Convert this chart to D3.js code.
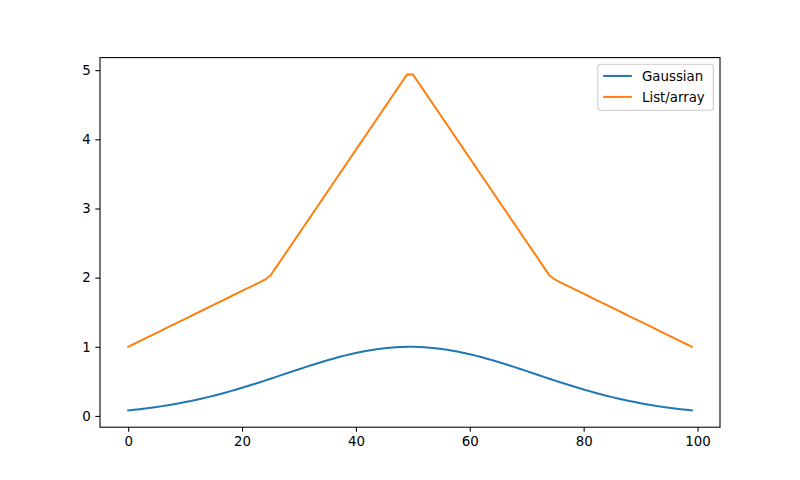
<!DOCTYPE html>
<html><head><meta charset="utf-8">
<script src="https://cdn.jsdelivr.net/npm/d3@7"></script>
<style>body{margin:0;background:#fff}svg{display:block;font-family:"DejaVu Sans",sans-serif}</style>
</head><body><svg id="c" width="800" height="480"></svg>
<script>
const seriesNames = ["Gaussian", "List/array"];
const gaussianValues = [0.080,0.088,0.097,0.107,0.118,0.129,0.142,0.155,0.169,0.184,0.200,0.216,0.234,0.253,0.272,0.292,0.314,0.336,0.359,0.382,0.407,0.432,0.458,0.484,0.511,0.538,0.565,0.593,0.620,0.648,0.675,0.702,0.729,0.755,0.780,0.805,0.828,0.851,0.872,0.892,0.911,0.928,0.944,0.957,0.969,0.979,0.987,0.994,0.998,1.000,
1.000,0.998,0.994,0.987,0.979,0.969,0.957,0.944,0.928,0.911,0.892,0.872,0.851,0.828,0.805,0.780,0.755,0.729,0.702,0.675,0.648,0.620,0.593,0.565,0.538,0.511,0.484,0.458,0.432,0.407,0.382,0.359,0.336,0.314,0.292,0.272,0.253,0.234,0.216,0.200,0.184,0.169,0.155,0.142,0.129,0.118,0.107,0.097,0.088,0.080];
const listValues = [1.000,1.040,1.081,1.121,1.162,1.202,1.242,1.283,1.323,1.364,1.404,1.444,1.485,1.525,1.566,1.606,1.646,1.687,1.727,1.768,1.808,1.848,1.889,1.929,1.970,
2.030,2.152,2.273,2.394,2.515,2.636,2.758,2.879,3.000,3.121,3.242,3.364,3.485,3.606,3.727,3.848,3.970,4.091,4.212,4.333,4.455,4.576,4.697,4.818,4.939,
4.939,4.818,4.697,4.576,4.455,4.333,4.212,4.091,3.970,3.848,3.727,3.606,3.485,3.364,3.242,3.121,3.000,2.879,2.758,2.636,2.515,2.394,2.273,2.152,2.030,
1.970,1.929,1.889,1.848,1.808,1.768,1.727,1.687,1.646,1.606,1.566,1.525,1.485,1.444,1.404,1.364,1.323,1.283,1.242,1.202,1.162,1.121,1.081,1.040,1.000];
const xTicks = [0, 20, 40, 60, 80, 100];
const yTicks = [0, 1, 2, 3, 4, 5];
const colors = ["#1f77b4", "#ff7f0e"];

const svg = d3.select("#c");
const L = 100, R = 720, T = 57.6, B = 427.2;
const series = [gaussianValues, listValues];
const n = listValues.length;
const xmin = 0, xmax = n - 1, xm = (xmax - xmin) * 0.05;
const allY = series.flat();
const ymin = d3.min(allY), ymax = d3.max(allY), ym = (ymax - ymin) * 0.05;
const x = d3.scaleLinear().domain([xmin - xm, xmax + xm]).range([L, R]);
const y = d3.scaleLinear().domain([ymin - ym, ymax + ym]).range([B, T]);

const line = d3.line().x((d, i) => x(i)).y(d => y(d));
series.forEach((s, k) => {
  svg.append("path").datum(s).attr("d", line).attr("fill", "none")
    .attr("stroke", colors[k]).attr("stroke-width", 2).attr("stroke-linejoin", "round").attr("stroke-linecap", "square");
});

const xAxis = d3.axisBottom(x).tickValues(xTicks).tickSize(4.67).tickPadding(4.67).tickFormat(d3.format("d"));
const yAxis = d3.axisLeft(y).tickValues(yTicks).tickSize(4.67).tickPadding(4.67).tickFormat(d3.format("d"));
const gx = svg.append("g").attr("transform", `translate(0,${B})`).call(xAxis);
const gy = svg.append("g").attr("transform", `translate(${L},0)`).call(yAxis);
[gx, gy].forEach(g => {
  g.select(".domain").remove();
  g.selectAll(".tick line").attr("stroke", "#000").attr("stroke-width", 1.07);
  g.selectAll(".tick text").attr("fill", "#000").style("font-size", "13.33px").style("font-family", "DejaVu Sans");
});
svg.append("rect").attr("x", L).attr("y", T).attr("width", R - L).attr("height", B - T)
  .attr("fill", "none").attr("stroke", "#000").attr("stroke-width", 1.07);

// legend
const fs = 13.33;
const lg = svg.append("g");
const texts = seriesNames.map((name, k) => lg.append("text").text(name).style("font-size", fs + "px").attr("fill", "#000"));
const tw = Math.max(67.5, d3.max(texts, t => t.node().getComputedTextLength()));
const pad = 0.4 * fs, hl = 2 * fs, htp = 0.8 * fs, ls = 0.5 * fs, rowH = 14.3;
const w = pad + hl + htp + tw + pad;
const h = pad * 2 + rowH * 2 + ls;
const lx = R - 0.5 * fs - w, ly = T + 0.5 * fs;
lg.insert("rect", ":first-child").attr("x", lx).attr("y", ly).attr("width", w).attr("height", h)
  .attr("rx", 2.5).attr("fill", "#fff").attr("fill-opacity", 0.8).attr("stroke", "#cccccc").attr("stroke-width", 1.07);
seriesNames.forEach((name, k) => {
  const cy = ly + pad + rowH / 2 + k * (rowH + ls) - 0.8;
  lg.append("line").attr("x1", lx + pad + 1).attr("x2", lx + pad + hl + 1).attr("y1", cy).attr("y2", cy)
    .attr("stroke", colors[k]).attr("stroke-width", 2).attr("stroke-linecap", "square");
  texts[k].attr("x", lx + pad + hl + htp + 1.5).attr("y", cy).attr("dy", "0.35em");
});
</script></body></html>
